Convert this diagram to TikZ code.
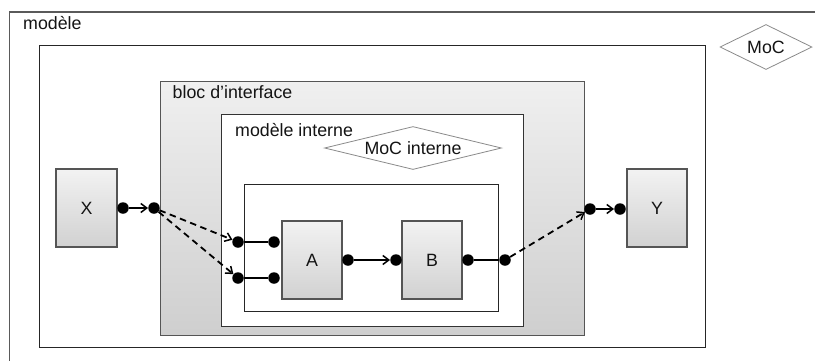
\documentclass[tikz,border=0pt]{standalone}
\usepackage{fontspec}
\setmainfont{Liberation Sans}
\usetikzlibrary{shapes.geometric,arrows.meta}
\definecolor{framegray}{HTML}{5A5A5A}
\definecolor{boxline}{HTML}{555555}
\definecolor{diamline}{HTML}{8A8A8A}
\begin{document}
\begin{tikzpicture}[x=1pt,y=-1pt,
  every node/.style={font=\fontsize{17.8}{20}\selectfont, text=black!92},
  frame/.style={draw=framegray, line width=1.4pt, fill=white, anchor=north west, inner sep=0pt},
  shadedframe/.style={draw=boxline, line width=1.4pt, anchor=north west, inner sep=0pt, top color=gray!12, bottom color=gray!38},
  blockbox/.style={draw=boxline, line width=1.2pt, minimum width=60pt, minimum height=78pt, inner sep=0pt, top color=gray!10, bottom color=gray!36},
  port/.style={circle, fill=black, inner sep=0pt, minimum size=11.5pt},
  moc/.style={diamond, draw=diamline, line width=0.8pt, inner sep=0pt, fill=white},
  conn/.style={line width=1.8pt, draw=black},
  flow/.style={conn, -{Straight Barb[length=6pt,width=9pt,line width=1.5pt]}},
  dflow/.style={flow, dash pattern=on 6.5pt off 4.5pt},
  label/.style={anchor=base west, inner sep=0pt}
]
\useasboundingbox (0,0) rectangle (815,360);
% outer frame "modele" (extends past picture edges)
\draw[draw=framegray, line width=1.2pt] (9.5,362) -- (9.5,12) -- (817,12);
\node[label] (tmodele) at (23,29) {modèle};
\node[moc, aspect=2.2, minimum width=92pt, minimum height=45pt] (moc) at (766,47) {MoC};
% white frame
\node[frame, draw=black!85, minimum width=666pt, minimum height=302.5pt] (inner) at (39,44.5) {};
% bloc d'interface
\node[shadedframe, minimum width=424pt, minimum height=254pt] (bloc) at (160,81) {};
\node[label] (tbloc) at (172.5,98.5) {bloc d’interface};
% modele interne
\node[frame, draw=black!80, minimum width=302.5pt, minimum height=212pt] (mint) at (220.5,114) {};
\node[label] (tmint) at (235,136) {modèle interne};
\node[moc, aspect=4.2, minimum width=177pt, minimum height=43pt] (mocint) at (413,148) {MoC interne};
% innermost box
\node[frame, draw=black!85, minimum width=254pt, minimum height=127pt] (core) at (244,184) {};
% blocks
\node[blockbox, minimum width=61pt] (X) at (86.5,208) {X};
\node[blockbox] (A) at (312,260) {A};
\node[blockbox] (B) at (432,260) {B};
\node[blockbox] (Y) at (657,208) {Y};
% ports
\node[port] (xo) at (123,208) {};
\node[port] (bi) at (154,208) {};
\node[port] (ci1) at (238,242) {};
\node[port] (ci2) at (238,278) {};
\node[port] (ai1) at (274,242) {};
\node[port] (ai2) at (274,278) {};
\node[port] (ao) at (348,260) {};
\node[port] (bin) at (396,260) {};
\node[port] (bo) at (468,260) {};
\node[port] (co) at (505,260) {};
\node[port] (bout) at (590,209) {};
\node[port] (yi) at (620,209) {};
% connectors
\draw[flow] (xo) -- (bi);
\draw[dflow] (bi) -- (ci1);
\draw[dflow] (bi) -- (ci2);
\draw[conn] (ci1) -- (ai1);
\draw[conn] (ci2) -- (ai2);
\draw[flow] (ao) -- (bin);
\draw[conn] (bo) -- (co);
\draw[dflow] (co) -- (bout);
\draw[flow] (bout) -- (yi);
\end{tikzpicture}
\end{document}
